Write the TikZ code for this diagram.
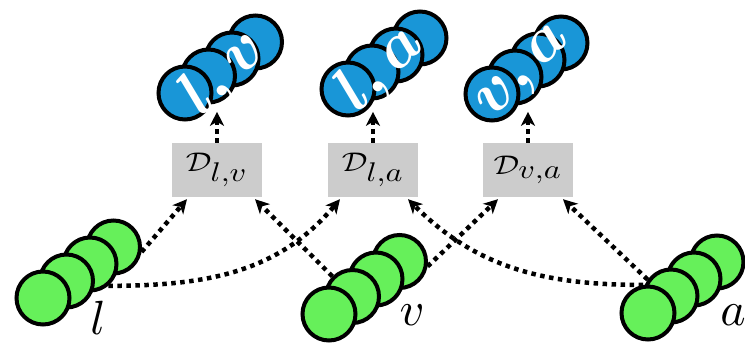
\documentclass[tikz,border=0pt]{standalone}
\usepackage{graphicx}
\usepackage{tikz}
\usetikzlibrary{positioning, calc, arrows.meta}
\definecolor{ballgreen}{RGB}{102,240,90}
\definecolor{ballblue}{RGB}{25,150,215}
\definecolor{boxgray}{RGB}{204,204,204}
\tikzstyle{Arrow} = [
    line width = 4.5pt,
    dash pattern = on 4.5pt off 4.5pt,
    -{Stealth[length=14pt, width=14pt, inset=4pt]}
]

\begin{document}
\begin{tikzpicture}[
x = 1pt, y = 1pt,
ball/.style = {
    circle, draw,
    line width = 4pt,
    minimum size = 53pt,
    inner sep = 0pt
    },
dbox/.style = {
    rectangle,
    fill = boxgray,
    minimum width = 90pt,
    minimum height = 54pt,
    inner sep = 0pt
    },
modal/.style = {inner sep = 0pt},
pair/.style = {
    text = white,
    rotate = 45,
    inner sep = 0pt
    }
]

\useasboundingbox (0,0) rectangle (745,348);

% single modalities
\foreach \i in {3,2,1,0} {
    \node [ball, fill = ballgreen] (l\i) at ($(43,50) + \i*(23.5,17)$) {};
    \node [ball, fill = ballgreen] (v\i) at ($(329,34) + \i*(23.5,17.5)$) {};
    \node [ball, fill = ballgreen] (a\i) at ($(648,35) + \i*(23,17)$) {};
}
\node [modal] (nl) at (98,30) {\scalebox{4.8}{$l$}};
\node [modal] (nv) at (412,33) {\scalebox{4.8}{$v$}};
\node [modal] (na) at (733,33) {\scalebox{4.8}{$a$}};

% pairs
\foreach \i in {3,2,1,0} {
    \node [ball, fill = ballblue] (lv\i) at ($(185,255) + \i*(23.5,17)$) {};
    \node [ball, fill = ballblue] (la\i) at ($(348,259) + \i*(24,17)$) {};
    \node [ball, fill = ballblue] (va\i) at ($(492,254) + \i*(23,17)$) {};
}
\node [pair] (tlv) at (224,275) {\scalebox{6.4}{\boldmath$l,v$}};
\node [pair] (tla) at (381,280) {\scalebox{6.4}{\boldmath$l,a$}};
\node [pair] (tva) at (526,274) {\scalebox{6.4}{\boldmath$v,a$}};

\node [dbox] (Dlv) at (217,178) {\scalebox{3.2}[2.7]{$\mathcal{D}_{\textstyle l{,}v}$}};
\node [dbox] (Dla) at (373,178) {\scalebox{3.2}[2.7]{$\mathcal{D}_{\textstyle l{,}a}$}};
\node [dbox] (Dva) at (528,178) {\scalebox{3.2}[2.7]{$\mathcal{D}_{\textstyle v{,}a}$}};

\draw [Arrow] (l3.-10) -- ([xshift=-30pt, yshift=-2pt]Dlv.south);
\draw [Arrow] (l2.-50) to [out=0, in=-130] ([xshift=-33pt, yshift=-2pt]Dla.south);

\draw [Arrow] (v1.135) -- ([xshift=38pt, yshift=-2pt]Dlv.south);
\draw [Arrow] (v3.-10) -- ([xshift=-30pt, yshift=-2pt]Dva.south);

\draw [Arrow] (a1.145) -- ([xshift=35pt, yshift=-2pt]Dva.south);
\draw [Arrow] (a0.100) to [out=180, in=-45] ([xshift=35pt, yshift=-2pt]Dla.south);

\foreach \d in {Dlv, Dla, Dva} {
    \draw [Arrow] (\d.north) -- ++(0,31);
}

\end{tikzpicture}
\end{document}
